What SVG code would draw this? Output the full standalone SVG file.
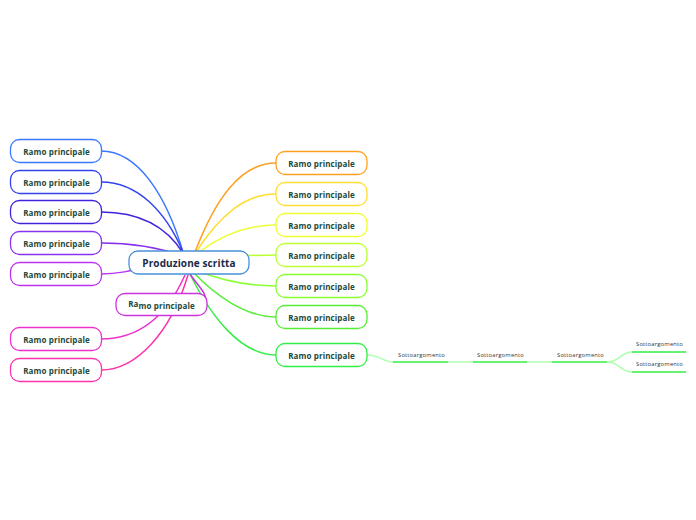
<svg xmlns="http://www.w3.org/2000/svg" width="696" height="520" viewBox="0 0 696 520">
<style>
.n rect{fill:#fff;stroke-width:1.3}
.t{font-family:"Open Sans","Noto Sans",sans-serif;font-weight:bold;font-size:8px;fill:#1d4a3a;text-anchor:middle;dominant-baseline:central;letter-spacing:0.1px}
.c{font-family:"Open Sans","Noto Sans",sans-serif;font-weight:bold;font-size:10px;fill:#1a2a4a;text-anchor:middle;dominant-baseline:central;letter-spacing:0.1px}
.s{font-family:"Open Sans","Noto Sans",sans-serif;font-size:5.8px;fill:#333;dominant-baseline:central;letter-spacing:0.2px}
#connectors path{fill:none;stroke-width:1.5;stroke-linecap:round}
.u{stroke:#33ee44;stroke-width:1.6;fill:none}
.lc{stroke:#b0ffb0;stroke-width:1.2;fill:none}
</style>
<rect width="696" height="520" fill="#fff"/>
<g id="connectors">
<path d="M101,151 C138,151 166,195 183,252" stroke="#3a78ff"/>
<path d="M101,182 C138,182 166,212 183,252" stroke="#3344ee"/>
<path d="M101,212 C140,212 166,226 183,253" stroke="#4422dd"/>
<path d="M101,243 C130,243 160,248 183,256" stroke="#8833ee"/>
<path d="M101,274 C118,274 130,271 150,266" stroke="#bb33ee"/>
<path d="M195,252 C215,200 240,163 276,163" stroke="#ffa020"/>
<path d="M196,252 C220,215 245,194 276,194" stroke="#ffdd33"/>
<path d="M198,253 C225,232 250,225 276,225" stroke="#eeff33"/>
<path d="M205,258 C235,256 255,255 276,255" stroke="#bbff33"/>
<path d="M195,270 C220,280 245,286 276,286" stroke="#88ff33"/>
<path d="M193,272 C215,295 245,317 276,317" stroke="#55ee33"/>
<path d="M190,274 C210,315 240,355 276,355" stroke="#33ee44"/>
<path d="M185,275 C165,320 135,339 101,339" stroke="#ee33cc"/>
<path d="M188,275 C170,335 135,370 101,370" stroke="#ff33aa"/>
<path d="M190,274 C197,285 207,292 206,303" stroke="#cc33dd"/>
<path class="lc" d="M367,355 C380,355 383,362 393,362"/>
<path class="lc" d="M448,362 L473,362"/>
<path class="lc" d="M527,362 L552,362"/>
<path class="lc" d="M607,362 C620,362 620,352 632,352"/>
<path class="lc" d="M607,362 C620,362 620,372 632,372"/>
</g>
<g id="center" class="n"><rect x="129" y="251" width="120" height="23" rx="9" stroke="#4a90d9"/><text class="c" x="189" y="262.5">Produzione scritta</text></g>
<g id="l1" class="n"><rect x="10.5" y="139.5" width="91" height="23" rx="9" stroke="#3a78ff"/><text class="t" x="56.5" y="151">Ramo principale</text></g>
<g id="l2" class="n"><rect x="10.5" y="170.5" width="91" height="23" rx="9" stroke="#3344ee"/><text class="t" x="56.5" y="182">Ramo principale</text></g>
<g id="l3" class="n"><rect x="10.5" y="200.5" width="91" height="23" rx="9" stroke="#4422dd"/><text class="t" x="56.5" y="212">Ramo principale</text></g>
<g id="l4" class="n"><rect x="10.5" y="231.5" width="91" height="23" rx="9" stroke="#8833ee"/><text class="t" x="56.5" y="243">Ramo principale</text></g>
<g id="l5" class="n"><rect x="10.5" y="262.5" width="91" height="23" rx="9" stroke="#bb33ee"/><text class="t" x="56.5" y="274">Ramo principale</text></g>
<g id="l6" class="n"><rect x="10.5" y="327.5" width="91" height="23" rx="9" stroke="#ee33cc"/><text class="t" x="56.5" y="339">Ramo principale</text></g>
<g id="l7" class="n"><rect x="10.5" y="358.5" width="91" height="23" rx="9" stroke="#ff33aa"/><text class="t" x="56.5" y="370">Ramo principale</text></g>
<g id="m1" class="n"><rect x="116" y="293.5" width="91" height="22" rx="9" stroke="#cc33dd"/><text class="t" x="161.5" y="304.5"><tspan dy="-1.5">Ra</tspan><tspan dy="1.5">mo principale</tspan></text></g>
<g id="r1" class="n"><rect x="276" y="151.5" width="91" height="23" rx="9" stroke="#ffa020"/><text class="t" x="321.5" y="163">Ramo principale</text></g>
<g id="r2" class="n"><rect x="276" y="182.5" width="91" height="23" rx="9" stroke="#ffdd33"/><text class="t" x="321.5" y="194">Ramo principale</text></g>
<g id="r3" class="n"><rect x="276" y="213.5" width="91" height="23" rx="9" stroke="#eeff33"/><text class="t" x="321.5" y="225">Ramo principale</text></g>
<g id="r4" class="n"><rect x="276" y="243.5" width="91" height="23" rx="9" stroke="#bbff33"/><text class="t" x="321.5" y="255">Ramo principale</text></g>
<g id="r5" class="n"><rect x="276" y="274.5" width="91" height="23" rx="9" stroke="#88ff33"/><text class="t" x="321.5" y="286">Ramo principale</text></g>
<g id="r6" class="n"><rect x="276" y="305.5" width="91" height="23" rx="9" stroke="#55ee33"/><text class="t" x="321.5" y="317">Ramo principale</text></g>
<g id="r7" class="n"><rect x="276" y="343.5" width="91" height="23" rx="9" stroke="#33ee44"/><text class="t" x="321.5" y="355">Ramo principale</text></g>
<g id="s1"><path class="u" d="M393,362 H448"/><text class="s" x="398" y="354.5">Sottoargomento</text></g>
<g id="s2"><path class="u" d="M473,362 H527"/><text class="s" x="477" y="354.5">Sottoargomento</text></g>
<g id="s3"><path class="u" d="M552,362 H607"/><text class="s" x="557" y="354.5">Sottoargomento</text></g>
<g id="s4"><path class="u" d="M632,352 H686"/><text class="s" x="636" y="344">Sottoargomento</text></g>
<g id="s5"><path class="u" d="M632,372 H686"/><text class="s" x="636" y="364">Sottoargomento</text></g>
</svg>
